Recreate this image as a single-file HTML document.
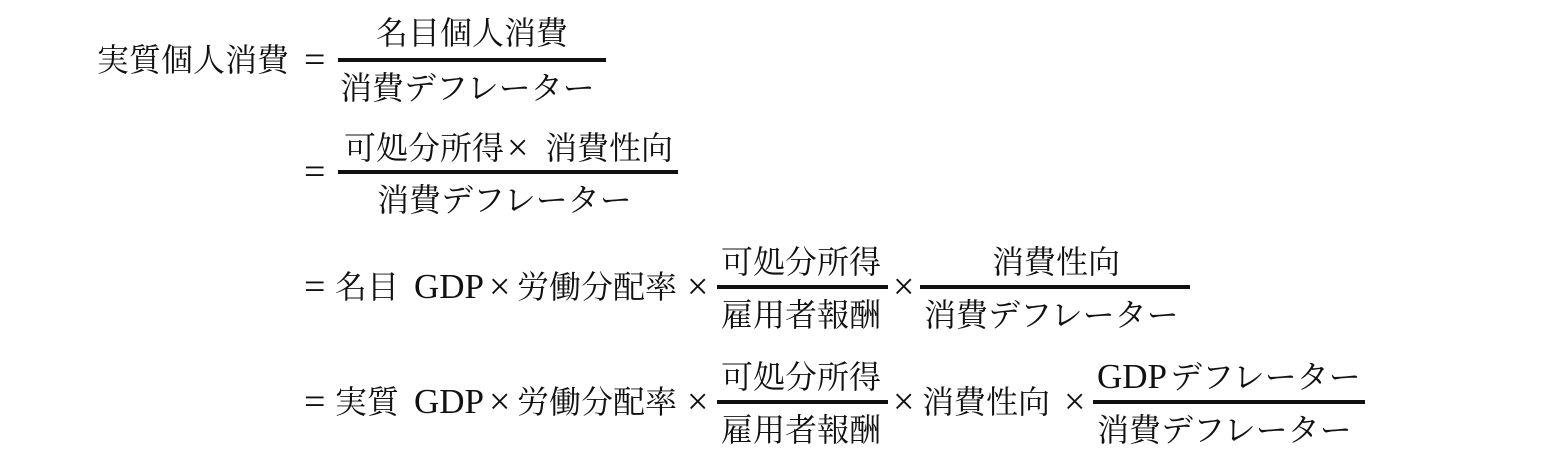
<!DOCTYPE html>
<html><head><meta charset="utf-8"><style>
html,body{margin:0;padding:0;background:#fff;}
body{width:1561px;height:461px;position:relative;overflow:hidden;
font-family:"Liberation Serif","Noto Serif CJK JP",serif;color:#111;}
.t{position:absolute;font-size:32px;line-height:32px;height:32px;white-space:nowrap;}
.o{position:absolute;font-family:"Liberation Serif",serif;font-size:38px;line-height:38px;height:38px;}
.b{position:absolute;height:4px;background:#111;}
.g{position:absolute;font-family:"Liberation Serif",serif;font-size:35px;line-height:35px;}
</style></head><body>
<!-- row1 -->
<div class="t" style="left:97px;top:44px">実質個人消費</div>
<div class="o" style="left:304px;top:41px">=</div>
<div class="b" style="left:338px;width:268px;top:58px"></div>
<div class="t" style="left:376px;top:17px">名目個人消費</div>
<div class="t" style="left:340px;top:72px">消費デフレーター</div>
<!-- row2 -->
<div class="o" style="left:304px;top:153px">=</div>
<div class="b" style="left:338px;width:340px;top:170px"></div>
<div class="t" style="left:344px;top:132px">可処分所得</div>
<div class="o" style="left:507px;top:129px">×</div>
<div class="t" style="left:545px;top:132px">消費性向</div>
<div class="t" style="left:377px;top:184px">消費デフレーター</div>
<!-- row3 -->
<div class="o" style="left:304px;top:268px">=</div>
<div class="t" style="left:335px;top:271px">名目</div>
<div class="g" style="left:414px;top:269px">GDP</div>
<div class="o" style="left:489px;top:268px">×</div>
<div class="t" style="left:517px;top:271px">労働分配率</div>
<div class="o" style="left:687px;top:268px">×</div>
<div class="b" style="left:717px;width:171px;top:285px"></div>
<div class="t" style="left:721px;top:246px">可処分所得</div>
<div class="t" style="left:721px;top:299px">雇用者報酬</div>
<div class="o" style="left:893px;top:268px">×</div>
<div class="b" style="left:920px;width:270px;top:285px"></div>
<div class="t" style="left:992px;top:246px">消費性向</div>
<div class="t" style="left:924px;top:299px">消費デフレーター</div>
<!-- row4 -->
<div class="o" style="left:304px;top:383px">=</div>
<div class="t" style="left:335px;top:386px">実質</div>
<div class="g" style="left:414px;top:384px">GDP</div>
<div class="o" style="left:489px;top:383px">×</div>
<div class="t" style="left:517px;top:386px">労働分配率</div>
<div class="o" style="left:687px;top:383px">×</div>
<div class="b" style="left:717px;width:171px;top:400px"></div>
<div class="t" style="left:721px;top:361px">可処分所得</div>
<div class="t" style="left:721px;top:414px">雇用者報酬</div>
<div class="o" style="left:893px;top:383px">×</div>
<div class="t" style="left:922px;top:386px">消費性向</div>
<div class="o" style="left:1064px;top:383px">×</div>
<div class="b" style="left:1093px;width:272px;top:400px"></div>
<div class="g" style="left:1097px;top:359px">GDP</div>
<div class="t" style="left:1170px;top:361px">デフレーター</div>
<div class="t" style="left:1097px;top:414px">消費デフレーター</div>
</body></html>
